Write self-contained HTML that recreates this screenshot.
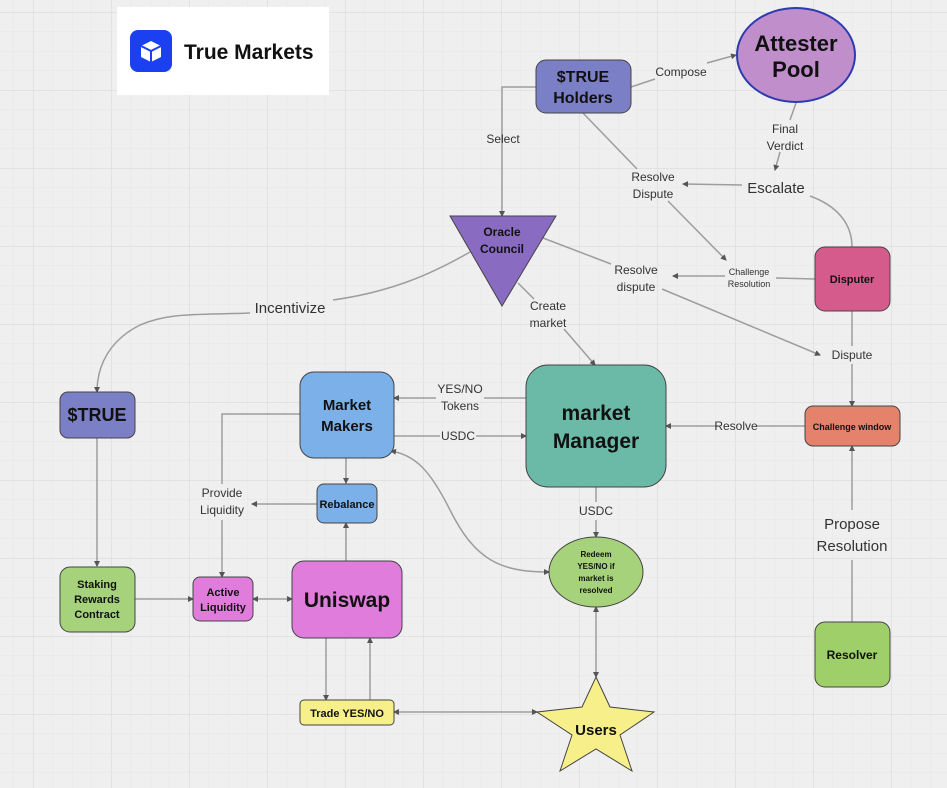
<!DOCTYPE html>
<html><head><meta charset="utf-8"><style>
html,body{margin:0;padding:0;background:#efefef}
svg{display:block}
text{font-family:"Liberation Sans",sans-serif}
</style></head><body>
<svg width="947" height="788" viewBox="0 0 947 788" xmlns="http://www.w3.org/2000/svg">
<defs>
<pattern id="minor" width="19.5" height="19.5" patternUnits="userSpaceOnUse" x="33" y="12"><path d="M0 0H19.5M0 0V19.5" stroke="#e7e7e7" stroke-width="1" fill="none"/></pattern>
<pattern id="major" width="78" height="78" patternUnits="userSpaceOnUse" x="33" y="12"><path d="M0 0H78M0 0V78" stroke="#dedede" stroke-width="1.5" fill="none"/></pattern>
<marker id="a" markerWidth="6" markerHeight="6" refX="5" refY="3" orient="auto" markerUnits="userSpaceOnUse"><path d="M0 0L6 3L0 6z" fill="#555"/></marker>
<marker id="s" markerWidth="6" markerHeight="6" refX="1" refY="3" orient="auto" markerUnits="userSpaceOnUse"><path d="M6 0L0 3L6 6z" fill="#555"/></marker>
</defs>
<rect width="947" height="788" fill="#efefef"/>
<rect width="947" height="788" fill="url(#minor)"/>
<rect width="947" height="788" fill="url(#major)"/>

<!-- logo -->
<rect x="117" y="7" width="212" height="88" fill="#fff"/>
<rect x="130" y="30" width="42" height="42" rx="8" fill="#1b40f2"/>
<path d="M151 41L161 46V57L151 62L141 57V46Z" fill="#fff"/>
<path d="M141 46L151 51L161 46M151 51V62" stroke="#1b40f2" stroke-width="2" fill="none"/>
<text x="184" y="59" font-size="21" font-weight="bold" fill="#111">True Markets</text>

<!-- edges -->
<g stroke="#9d9d9d" stroke-width="1.5" fill="none">
<path d="M536 87H502V216" marker-end="url(#a)"/>
<path d="M631 87L655 79M707 63L736 55" marker-end="url(#a)"/>
<path d="M796 103L790 120M780 152L775 170" marker-end="url(#a)"/>
<path d="M742 185L683 184" marker-end="url(#a)"/>
<path d="M810 196C835 205 852 222 852 247"/>
<path d="M583 113L637 169M668 201L726 260" marker-end="url(#a)"/>
<path d="M815 279L776 278M725 276L673 276" marker-end="url(#a)"/>
<path d="M543 238L611 264M662 289L820 355" marker-end="url(#a)"/>
<path d="M852 311V346M852 364V406" marker-end="url(#a)"/>
<path d="M518 283L534 299M564 329L595 365" marker-end="url(#a)"/>
<path d="M805 426H757M718 426H666" marker-end="url(#a)"/>
<path d="M852 622V560M852 510V446" marker-end="url(#a)"/>
<path d="M526 398H484M436 398H394" marker-end="url(#a)"/>
<path d="M394 436H440M476 436H526" marker-end="url(#a)"/>
<path d="M596 487V502M596 520V537" marker-end="url(#a)"/>
<path d="M596 607V677" marker-start="url(#s)" marker-end="url(#a)"/>
<path d="M549 572C500 572 475 560 450 510C430 470 415 455 391 451" marker-start="url(#s)" marker-end="url(#a)"/>
<path d="M346 458V483" marker-end="url(#a)"/>
<path d="M346 561V523" marker-end="url(#a)"/>
<path d="M317 504H252" marker-end="url(#a)"/>
<path d="M300 414H222V484M222 520V577" marker-end="url(#a)"/>
<path d="M470 252C430 275 390 292 333 300M250 313C200 315 170 312 140 325C110 340 97 365 97 392" marker-end="url(#a)"/>
<path d="M97 438V566" marker-end="url(#a)"/>
<path d="M135 599H193" marker-end="url(#a)"/>
<path d="M253 599H292" marker-start="url(#s)" marker-end="url(#a)"/>
<path d="M326 638V700" marker-end="url(#a)"/>
<path d="M370 700V638" marker-end="url(#a)"/>
<path d="M394 712H537" marker-start="url(#s)" marker-end="url(#a)"/>
</g>

<!-- labels -->
<g fill="#333" font-size="12" text-anchor="middle">
<text x="503" y="143">Select</text>
<text x="681" y="76">Compose</text>
<text x="785" y="133">Final</text><text x="785" y="150">Verdict</text>
<text x="776" y="193" font-size="15">Escalate</text>
<text x="653" y="181">Resolve</text><text x="653" y="198">Dispute</text>
<text x="749" y="275" font-size="9">Challenge</text><text x="749" y="287" font-size="9">Resolution</text>
<text x="636" y="274">Resolve</text><text x="636" y="291">dispute</text>
<text x="852" y="359">Dispute</text>
<text x="548" y="310">Create</text><text x="548" y="327">market</text>
<text x="736" y="430">Resolve</text>
<text x="852" y="529" font-size="15">Propose</text><text x="852" y="551" font-size="15">Resolution</text>
<text x="460" y="393">YES/NO</text><text x="460" y="410">Tokens</text>
<text x="458" y="440">USDC</text>
<text x="596" y="515">USDC</text>
<text x="222" y="497">Provide</text><text x="222" y="514">Liquidity</text>
<text x="290" y="313" font-size="15">Incentivize</text>
</g>

<!-- nodes -->
<g stroke="#444" stroke-width="1">
<rect x="536" y="60" width="95" height="53" rx="10" fill="#7b7fc6"/>
<ellipse cx="796" cy="55" rx="59" ry="47" fill="#c08ecb" stroke="#2e3bb0" stroke-width="2"/>
<path d="M450 216H556L502 306Z" fill="#8a6bc2"/>
<rect x="815" y="247" width="75" height="64" rx="10" fill="#d55b8c"/>
<rect x="805" y="406" width="95" height="40" rx="8" fill="#e5826c"/>
<rect x="815" y="622" width="75" height="65" rx="10" fill="#9ecf68"/>
<rect x="526" y="365" width="140" height="122" rx="22" fill="#6bbaa8"/>
<rect x="300" y="372" width="94" height="86" rx="14" fill="#7bb1e8"/>
<rect x="60" y="392" width="75" height="46" rx="8" fill="#7b7fc6"/>
<rect x="317" y="484" width="60" height="39" rx="7" fill="#7bb1e8"/>
<rect x="60" y="567" width="75" height="65" rx="10" fill="#a5d27a"/>
<rect x="193" y="577" width="60" height="44" rx="7" fill="#e07ddc"/>
<rect x="292" y="561" width="110" height="77" rx="12" fill="#e07ddc"/>
<ellipse cx="596" cy="572" rx="47" ry="35" fill="#a5d27a"/>
<path d="M596 677L610 707L654 712L620 735L632 771L596 749L560 771L572 735L537 712L582 707Z" fill="#f7f08a"/>
<rect x="300" y="700" width="94" height="25" rx="4" fill="#f7f08a"/>
</g>

<g fill="#111" font-weight="bold" text-anchor="middle">
<text x="583" y="82" font-size="16">$TRUE</text><text x="583" y="103" font-size="16">Holders</text>
<text x="796" y="51" font-size="22">Attester</text><text x="796" y="77" font-size="22">Pool</text>
<text x="502" y="236" font-size="12">Oracle</text><text x="502" y="253" font-size="12">Council</text>
<text x="852" y="283" font-size="11">Disputer</text>
<text x="852" y="430" font-size="9">Challenge window</text>
<text x="852" y="659" font-size="12">Resolver</text>
<text x="596" y="420" font-size="21">market</text><text x="596" y="448" font-size="21">Manager</text>
<text x="347" y="410" font-size="15">Market</text><text x="347" y="431" font-size="15">Makers</text>
<text x="97" y="421" font-size="18">$TRUE</text>
<text x="347" y="508" font-size="11">Rebalance</text>
<text x="97" y="588" font-size="11">Staking</text><text x="97" y="603" font-size="11">Rewards</text><text x="97" y="618" font-size="11">Contract</text>
<text x="223" y="596" font-size="11">Active</text><text x="223" y="611" font-size="11">Liquidity</text>
<text x="347" y="607" font-size="21">Uniswap</text>
<text x="596" y="557" font-size="8">Redeem</text><text x="596" y="569" font-size="8">YES/NO if</text><text x="596" y="581" font-size="8">market is</text><text x="596" y="593" font-size="8">resolved</text>
<text x="596" y="735" font-size="15">Users</text>
<text x="347" y="717" font-size="11">Trade YES/NO</text>
</g>
</svg>
</body></html>
